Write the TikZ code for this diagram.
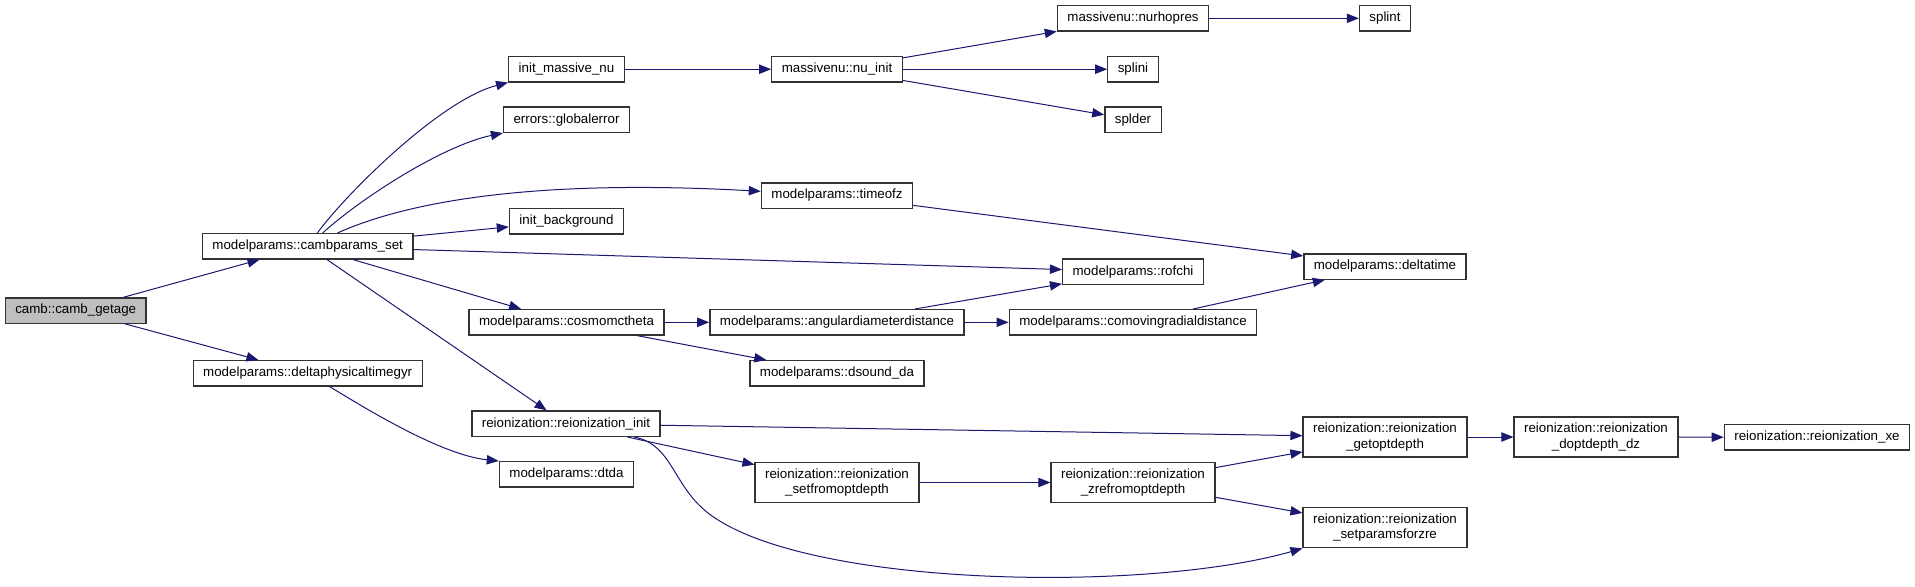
\documentclass[tikz,border=0pt]{standalone}
\usepackage{fontspec}
\setmainfont{Liberation Sans}
\usetikzlibrary{arrows.meta}
\definecolor{callblue}{HTML}{191970}
\definecolor{rootgray}{HTML}{BFBFBF}

\begin{document}
\begin{tikzpicture}[x=0.75pt,y=-0.75pt,
    fn/.style={draw=black!80, line width=1pt, minimum height=19pt, inner xsep=7.5pt, inner ysep=2pt, font=\fontsize{10}{11.5}\selectfont},
    fntwo/.style={fn, align=center, minimum height=30pt},
    call/.style={callblue, line width=0.75pt, -{Triangle[length=9pt,width=7pt]}}]
                \useasboundingbox (0,0) rectangle (1915,586);

                % Root and first level
                \node[fn, fill=rootgray] (getage) at (75.7,310.5) {camb::camb\_getage};
                \node[fn] (cps) at (307.7,246.3) {modelparams::cambparams\_set};
                \node[fn] (dptg) at (307.7,373.3) {modelparams::deltaphysicaltimegyr};

                % Second column
                \node[fn] (imn) at (566.5,69.2) {init\_massive\_nu};
                \node[fn] (globalerr) at (566.5,119.7) {errors::globalerror};
                \node[fn] (initbg) at (566.5,221.3) {init\_background};
                \node[fn] (cosmo) at (566.5,322.3) {modelparams::cosmomctheta};
                \node[fn] (rinit) at (566,423.7) {reionization::reionization\_init};
                \node[fn] (dtda) at (566.5,474.3) {modelparams::dtda};

                % Third column
                \node[fn] (nuinit) at (837,69.2) {massivenu::nu\_init};
                \node[fn] (timeofz) at (837,195.5) {modelparams::timeofz};
                \node[fn] (angdd) at (837,322.3) {modelparams::angulardiameterdistance};
                \node[fn] (dsound) at (837,373.3) {modelparams::dsound\_da};
                \node[fntwo] (setfrom) at (837,482.5) {reionization::reionization\\\_setfromoptdepth};

                % Fourth column
                \node[fn] (nurho) at (1133,18.3) {massivenu::nurhopres};
                \node[fn] (splini) at (1133,69.2) {splini};
                \node[fn] (splder) at (1133,119.7) {splder};
                \node[fn] (rofchi) at (1133,271.7) {modelparams::rofchi};
                \node[fn] (comoving) at (1133,322.3) {modelparams::comovingradialdistance};
                \node[fntwo] (zrefrom) at (1133,482.5) {reionization::reionization\\\_zrefromoptdepth};

                % Right columns
                \node[fn] (splint) at (1385,18.3) {splint};
                \node[fn] (deltatime) at (1385,266.5) {modelparams::deltatime};
                \node[fntwo] (getopt) at (1385,437) {reionization::reionization\\\_getoptdepth};
                \node[fntwo] (setparams) at (1385,527.7) {reionization::reionization\\\_setparamsforzre};
                \node[fntwo] (dopt) at (1596,437) {reionization::reionization\\\_doptdepth\_dz};
                \node[fn] (rxe) at (1817,437.3) {reionization::reionization\_xe};

                % Calls from the root
                \draw[call] (getage) -- (cps);
                \draw[call] (getage) -- (dptg);

                % Calls from cambparams_set
                \draw[call] (cps) .. controls (345,195) and (440,100) .. (imn.south west);
                \draw[call] (cps) .. controls (365,195) and (445,145) .. (globalerr.south west);
                \draw[call] (cps) .. controls (400,205) and (520,178) .. (timeofz);
                \draw[call] (cps) -- (initbg);
                \draw[call] (cps) -- (rofchi);
                \draw[call] (cps) -- (cosmo);
                \draw[call] (cps) -- (rinit);
                \draw[call] (dptg) .. controls (360,405) and (440,455) .. (dtda.north west);

                % Massive neutrinos
                \draw[call] (imn) -- (nuinit);
                \draw[call] (nuinit) -- (nurho);
                \draw[call] (nuinit) -- (splini);
                \draw[call] (nuinit) -- (splder);
                \draw[call] (nurho) -- (splint);

                % Distances and times
                \draw[call] (timeofz) -- (deltatime);
                \draw[call] (cosmo) -- (angdd);
                \draw[call] (cosmo) -- (dsound);
                \draw[call] (angdd) -- (rofchi);
                \draw[call] (angdd) -- (comoving);
                \draw[call] (comoving) -- (deltatime);

                % Reionization
                \draw[call] (rinit) -- (getopt);
                \draw[call] (rinit) -- (setfrom);
                \draw[call] (rinit) .. controls (675,445) and (672,490) .. (715,518)
                    .. controls (820,588) and (1150,592) .. (setparams.south west);
                \draw[call] (setfrom) -- (zrefrom);
                \draw[call] (zrefrom) -- (getopt);
                \draw[call] (zrefrom) -- (setparams);
                \draw[call] (getopt) -- (dopt);
                \draw[call] (dopt) -- (rxe);
            \end{tikzpicture}
\end{document}
